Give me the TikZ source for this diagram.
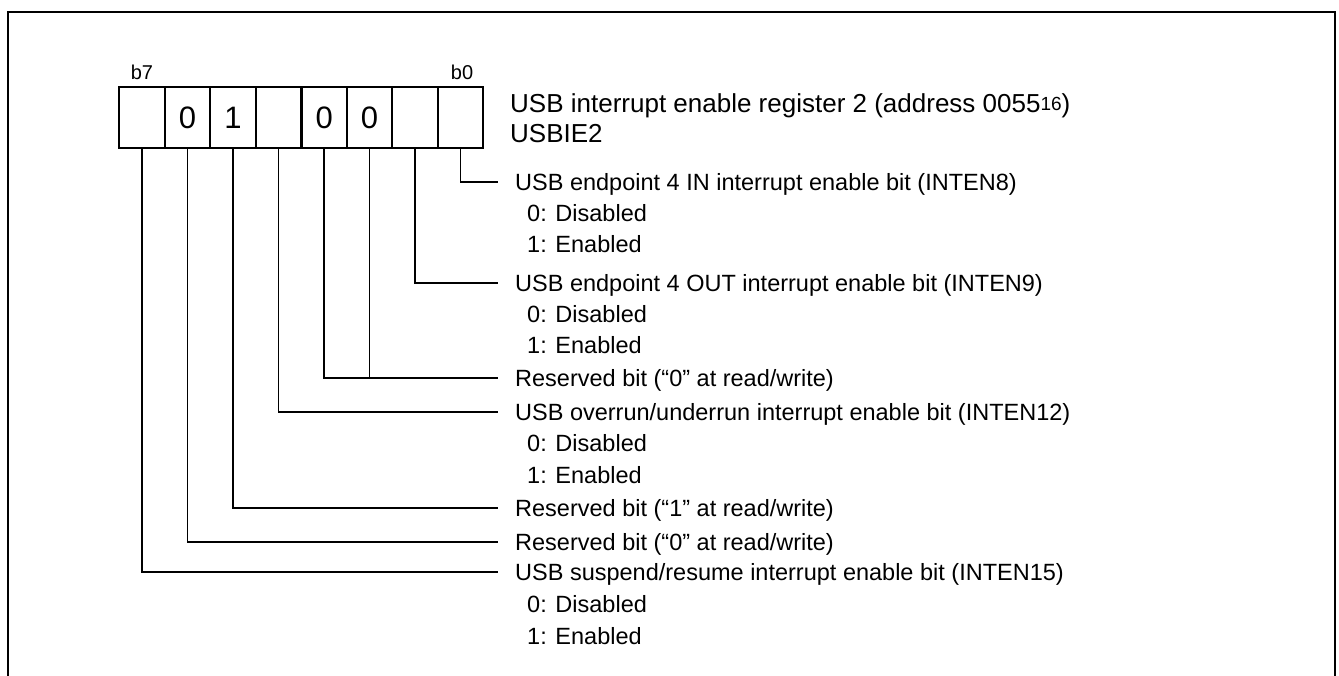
\documentclass[tikz,border=0pt]{standalone}
\usepackage{fontspec}
\setmainfont{Liberation Sans}
\begin{document}
\begin{tikzpicture}[x=1pt,y=-1pt,
  bitbox/.style={draw,line width=2pt,minimum width=45.4pt,minimum height=61pt,inner sep=0pt,font=\fontsize{31}{31}\selectfont},
  bitlbl/.style={anchor=base,inner sep=0pt,font=\fontsize{20}{20}\selectfont},
  title/.style={anchor=base west,inner sep=0pt,font=\fontsize{26}{30}\selectfont},
  item/.style={anchor=base west,inner sep=0pt,font=\fontsize{23.5}{28}\selectfont},
  leader/.style={line width=1.5pt},
  frame/.style={line width=2pt}]
\useasboundingbox (0,0) rectangle (1339,675);
\clip (0,0) rectangle (1339,675);
\draw[frame] (8,690) -- (8,12) -- (1335,12) -- (1335,690);
% register bits
\node[bitbox] (bit7) at (142,117.5) {};
\node[bitbox] (bit6) at (187.6,117.5) {0};
\node[bitbox] (bit5) at (233,117.5) {1};
\node[bitbox] (bit4) at (278.4,117.5) {};
\node[bitbox] (bit3) at (324.2,117.5) {0};
\node[bitbox] (bit2) at (369.6,117.5) {0};
\node[bitbox] (bit1) at (415,117.5) {};
\node[bitbox] (bit0) at (460.4,117.5) {};
\node[bitlbl] (lb7) at (142,79) {b7};
\node[bitlbl] (lb0) at (462,79) {b0};
% title
\node[title] (t1) at (510,112) {USB interrupt enable register 2 (address 0055\raisebox{2pt}{\fontsize{19}{19}\selectfont 16})};
\node[title] (t2) at (510,142) {USBIE2};
% items
\node[item] (i8) at (515,190.4) {USB endpoint 4 IN interrupt enable bit (INTEN8)};
\node[item] (i8a) at (527,221.4) {0: Disabled};
\node[item] (i8b) at (527,252.4) {1: Enabled};
\node[item] (i9) at (515,291.4) {USB endpoint 4 OUT interrupt enable bit (INTEN9)};
\node[item] (i9a) at (527,322.4) {0: Disabled};
\node[item] (i9b) at (527,353.4) {1: Enabled};
\node[item] (r32) at (515,386.4) {Reserved bit (“0” at read/write)};
\node[item] (i12) at (515,420.4) {USB overrun/underrun interrupt enable bit (INTEN12)};
\node[item] (i12a) at (527,451.4) {0: Disabled};
\node[item] (i12b) at (527,483.4) {1: Enabled};
\node[item] (r5) at (515,516.4) {Reserved bit (“1” at read/write)};
\node[item] (r6) at (515,550.4) {Reserved bit (“0” at read/write)};
\node[item] (i15) at (515,580.4) {USB suspend/resume interrupt enable bit (INTEN15)};
\node[item] (i15a) at (527,612.4) {0: Disabled};
\node[item] (i15b) at (527,644.4) {1: Enabled};
% leader end points
\coordinate (e8) at (498,182);
\coordinate (e9) at (498,283);
\coordinate (e32) at (498,378);
\coordinate (e12) at (498,412);
\coordinate (e5) at (498,508);
\coordinate (e6) at (498,542);
\coordinate (e15) at (498,572);
% leaders
\draw[leader] (bit0.south) |- (e8);
\draw[leader] (bit1.south) |- (e9);
\draw[leader] (bit3.south) |- (e32);
\draw[leader] (bit2.south) -- (bit2.south |- e32);
\draw[leader] (bit4.south) |- (e12);
\draw[leader] (bit5.south) |- (e5);
\draw[leader] (bit6.south) |- (e6);
\draw[leader] (bit7.south) |- (e15);
\end{tikzpicture}
\end{document}
